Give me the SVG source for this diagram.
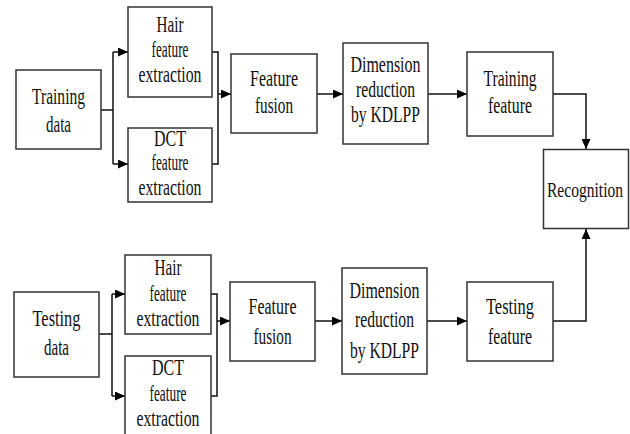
<svg xmlns="http://www.w3.org/2000/svg" width="630" height="434" viewBox="0 0 630 434">
<style>
.box{fill:#fff;stroke:#333;stroke-width:1.5}
.t{font-family:'Liberation Serif','DejaVu Serif',serif;font-size:24px;fill:#111;text-anchor:middle}
.c{fill:none;stroke:#111;stroke-width:1.5}
</style>
<defs>
<marker id="ah" markerUnits="userSpaceOnUse" markerWidth="10" markerHeight="9" refX="10" refY="4.5" orient="auto">
<path d="M0,0 L10,4.5 L0,9 z" fill="#000"/>
</marker>
</defs>
<rect width="630" height="434" fill="#fff"/>
<g id="connectors">
<path class="c" d="M101,110 H113"/>
<path class="c" d="M113,52 V164"/>
<path class="c" d="M113,52 H128" marker-end="url(#ah)"/>
<path class="c" d="M113,164 H128" marker-end="url(#ah)"/>
<path class="c" d="M212,52 H218 V164 H212"/>
<path class="c" d="M218,94 H231" marker-end="url(#ah)"/>
<path class="c" d="M317,94 H343" marker-end="url(#ah)"/>
<path class="c" d="M428,94 H467" marker-end="url(#ah)"/>
<path class="c" d="M553,94 H586 V149" marker-end="url(#ah)"/>
<path class="c" d="M99,334 H112"/>
<path class="c" d="M112,294 V396"/>
<path class="c" d="M112,294 H125" marker-end="url(#ah)"/>
<path class="c" d="M112,396 H125" marker-end="url(#ah)"/>
<path class="c" d="M211,294 H217 V396 H211"/>
<path class="c" d="M217,321 H230" marker-end="url(#ah)"/>
<path class="c" d="M315,321 H342" marker-end="url(#ah)"/>
<path class="c" d="M427,321 H467" marker-end="url(#ah)"/>
<path class="c" d="M553,321 H586 V229" marker-end="url(#ah)"/>
</g>
<g id="training-data">
<rect class="box" x="16" y="70" width="85" height="79"/>
<text class="t" x="58.5" y="103.5" textLength="53" lengthAdjust="spacingAndGlyphs">Training</text>
<text class="t" x="58.5" y="131.5" textLength="25" lengthAdjust="spacingAndGlyphs">data</text>
</g>
<g id="hair-train">
<rect class="box" x="128" y="7" width="84" height="90"/>
<text class="t" x="170" y="32" textLength="27" lengthAdjust="spacingAndGlyphs">Hair</text>
<text class="t" x="170" y="57" textLength="37" lengthAdjust="spacingAndGlyphs">feature</text>
<text class="t" x="170" y="82" textLength="63" lengthAdjust="spacingAndGlyphs">extraction</text>
</g>
<g id="dct-train">
<rect class="box" x="128" y="128" width="84" height="74"/>
<text class="t" x="170" y="145.5" textLength="32" lengthAdjust="spacingAndGlyphs">DCT</text>
<text class="t" x="170" y="170" textLength="37" lengthAdjust="spacingAndGlyphs">feature</text>
<text class="t" x="170" y="195" textLength="63" lengthAdjust="spacingAndGlyphs">extraction</text>
</g>
<g id="fusion-train">
<rect class="box" x="231" y="54" width="86" height="79"/>
<text class="t" x="274" y="85.5" textLength="48" lengthAdjust="spacingAndGlyphs">Feature</text>
<text class="t" x="274" y="113" textLength="38" lengthAdjust="spacingAndGlyphs">fusion</text>
</g>
<g id="dim-train">
<rect class="box" x="343" y="43" width="85" height="101"/>
<text class="t" x="385.5" y="71.5" textLength="70" lengthAdjust="spacingAndGlyphs">Dimension</text>
<text class="t" x="385.5" y="96.5" textLength="59" lengthAdjust="spacingAndGlyphs">reduction</text>
<text class="t" x="385.5" y="121.5" textLength="69" lengthAdjust="spacingAndGlyphs">by KDLPP</text>
</g>
<g id="training-feature">
<rect class="box" x="467" y="52" width="86" height="84"/>
<text class="t" x="510" y="86" textLength="53" lengthAdjust="spacingAndGlyphs">Training</text>
<text class="t" x="510" y="113" textLength="44" lengthAdjust="spacingAndGlyphs">feature</text>
</g>
<g id="recognition">
<rect class="box" x="543.5" y="149.5" width="85" height="79"/>
<text class="t" x="585" y="196.5" style="font-size:21px" textLength="76" lengthAdjust="spacingAndGlyphs">Recognition</text>
</g>
<g id="testing-data">
<rect class="box" x="14" y="292" width="85" height="85"/>
<text class="t" x="56.5" y="326" textLength="48" lengthAdjust="spacingAndGlyphs">Testing</text>
<text class="t" x="56.5" y="354.5" textLength="25" lengthAdjust="spacingAndGlyphs">data</text>
</g>
<g id="hair-test">
<rect class="box" x="125" y="255" width="86" height="79"/>
<text class="t" x="168" y="275" textLength="27" lengthAdjust="spacingAndGlyphs">Hair</text>
<text class="t" x="168" y="300.5" textLength="37" lengthAdjust="spacingAndGlyphs">feature</text>
<text class="t" x="168" y="325.5" textLength="63" lengthAdjust="spacingAndGlyphs">extraction</text>
</g>
<g id="dct-test">
<rect class="box" x="125" y="356" width="86" height="90"/>
<text class="t" x="168" y="375" textLength="32" lengthAdjust="spacingAndGlyphs">DCT</text>
<text class="t" x="168" y="401" textLength="37" lengthAdjust="spacingAndGlyphs">feature</text>
<text class="t" x="168" y="426" textLength="63" lengthAdjust="spacingAndGlyphs">extraction</text>
</g>
<g id="fusion-test">
<rect class="box" x="230" y="282" width="85" height="79"/>
<text class="t" x="272.5" y="314" textLength="48" lengthAdjust="spacingAndGlyphs">Feature</text>
<text class="t" x="272.5" y="343.5" textLength="38" lengthAdjust="spacingAndGlyphs">fusion</text>
</g>
<g id="dim-test">
<rect class="box" x="342" y="268" width="85" height="106"/>
<text class="t" x="384.5" y="297.5" textLength="70" lengthAdjust="spacingAndGlyphs">Dimension</text>
<text class="t" x="384.5" y="327" textLength="59" lengthAdjust="spacingAndGlyphs">reduction</text>
<text class="t" x="384.5" y="357.5" textLength="69" lengthAdjust="spacingAndGlyphs">by KDLPP</text>
</g>
<g id="testing-feature">
<rect class="box" x="467" y="282" width="86" height="79"/>
<text class="t" x="510" y="313.5" textLength="48" lengthAdjust="spacingAndGlyphs">Testing</text>
<text class="t" x="510" y="344" textLength="44" lengthAdjust="spacingAndGlyphs">feature</text>
</g>
</svg>
